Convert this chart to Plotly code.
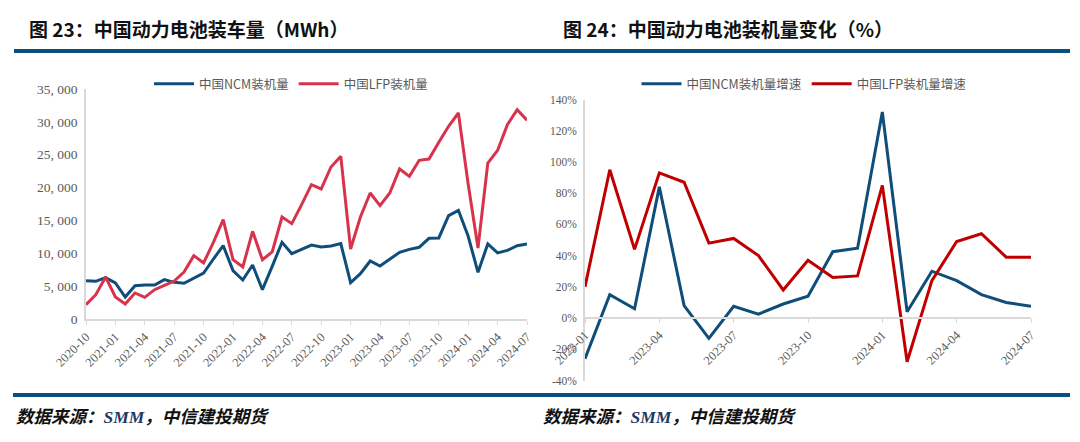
import pandas as pd
import plotly.graph_objects as go

# left chart: monthly installations, MWh (2020-10 .. 2024-07)
months_left = [d.strftime("%Y-%m") for d in pd.date_range("2020-10-01", "2024-07-01", freq="MS")]
ncm_mwh = [5830, 5730, 6300, 5480, 3350, 5070, 5170, 5170, 5990, 5580, 5430, 6240,
           7000, 9130, 11160, 7360, 5940, 8220, 4460, 8020, 11670, 9940, 10650, 11260,
           10960, 11110, 11470, 5530, 6900, 8830, 8070, 9130, 10150, 10600, 10910, 12280,
           12330, 15730, 16540, 12580, 7100, 11420, 10050, 10450, 11160, 11420]
lfp_mwh = [2180, 3700, 6390, 3350, 2280, 3960, 3300, 4460, 5120, 5780, 7150, 9640,
           8520, 11670, 15120, 9030, 7910, 13340, 9030, 10200, 15520, 14510, 17400, 20450,
           19790, 23130, 24760, 10650, 15520, 19180, 17250, 19180, 22830, 21710, 24150, 24350,
           26890, 29330, 31350, 20500, 10800, 23740, 25670, 29580, 31860, 30240]
left_ticks = months_left[::3]
left_yticks = [0, 5000, 10000, 15000, 20000, 25000, 30000, 35000]

# right chart: growth rates, % (2023-01 .. 2024-07)
months_right = [d.strftime("%Y-%m") for d in pd.date_range("2023-01-01", "2024-07-01", freq="MS")]
ncm_growth = [-26, 15, 6, 84, 8, -13, 7.5, 2.5, 9, 14, 42.5, 44.7, 132, 4, 30, 24, 15, 10, 7.5]
lfp_growth = [20, 95, 44, 93, 87, 48, 51, 40, 18, 37, 26, 27, 85, -28, 24, 49, 54, 39, 39]
right_ticks = months_right[::3]
right_yticks = list(range(-40, 141, 20))

W, H = 1080, 442
OFF = 8  # page body margin, positions below are in screen pixels
BLUE = "#0f4d7a"
RED_L = "#d8334c"
RED_R = "#c00000"
GREY = "#595959"
AXIS = "#d9d9d9"
RULE = "#0b4f80"


def px(x):
    return (x - OFF) / W


def py(y):
    return 1 - (y - OFF) / H


fig = go.Figure()
fig.add_trace(go.Scatter(x=months_left, y=ncm_mwh, mode="lines", name="中国NCM装机量",
                         line=dict(color=BLUE, width=3), xaxis="x", yaxis="y", legend="legend"))
fig.add_trace(go.Scatter(x=months_left, y=lfp_mwh, mode="lines", name="中国LFP装机量",
                         line=dict(color=RED_L, width=3), xaxis="x", yaxis="y", legend="legend"))
fig.add_trace(go.Scatter(x=months_right, y=ncm_growth, mode="lines", name="中国NCM装机量增速",
                         line=dict(color=BLUE, width=3), xaxis="x2", yaxis="y2", legend="legend2"))
fig.add_trace(go.Scatter(x=months_right, y=lfp_growth, mode="lines", name="中国LFP装机量增速",
                         line=dict(color=RED_R, width=3), xaxis="x2", yaxis="y2", legend="legend2"))

xtick_font = dict(family="Liberation Serif", size=12.5, color=GREY)
y2_bottom, y2_top = 380.5, 99.5
zero_pos = py(y2_bottom) + (py(y2_top) - py(y2_bottom)) * 40 / 180

fig.update_layout(
    width=W, height=H,
    margin=dict(l=0, r=0, t=0, b=0, autoexpand=False),
    plot_bgcolor="white", paper_bgcolor="white",
    font=dict(family="Noto Sans CJK SC", color=GREY),
    xaxis=dict(domain=[px(86), px(527)], type="category", range=[0, len(months_left) - 1],
               tickvals=left_ticks, tickangle=-45, tickfont=xtick_font,
               showline=True, linecolor=AXIS, linewidth=1.5, ticks="outside", ticklen=4,
               tickcolor=AXIS, showgrid=False, anchor="y", automargin=False),
    yaxis=dict(domain=[py(319), py(89)], range=[0, 35000], tickvals=left_yticks,
               ticktext=[f"{v:,}".replace(",", ", ") for v in left_yticks],
               tickfont=dict(family="Liberation Serif", size=13.5, color=GREY),
               showline=True, linecolor=AXIS, linewidth=1.5,
               showgrid=False, zeroline=False, anchor="x", ticks="outside", ticklen=4,
               tickcolor="white", automargin=False),
    xaxis2=dict(domain=[px(585), px(1031)], type="category", range=[0, len(months_right) - 1],
                tickvals=right_ticks, tickangle=-45, tickfont=xtick_font,
                showline=True, linecolor=AXIS, linewidth=1.5, ticks="outside", ticklen=4,
                tickcolor=AXIS, showgrid=False, anchor="free", position=zero_pos, automargin=False),
    yaxis2=dict(domain=[py(y2_bottom), py(y2_top)], range=[-40, 140], tickvals=right_yticks,
                ticktext=[f"{v}%" for v in right_yticks],
                tickfont=dict(family="Liberation Serif", size=11.5, color=GREY),
                showline=True, linecolor=AXIS, linewidth=1.5,
                showgrid=False, zeroline=False, anchor="x2", ticks="outside", ticklen=4,
                tickcolor="white", automargin=False),
    legend=dict(orientation="h", x=px(291), y=py(84), xanchor="center", yanchor="middle",
                font=dict(size=12.5, color=GREY), bgcolor="rgba(0,0,0,0)", itemwidth=40),
    legend2=dict(orientation="h", x=px(804), y=py(84), xanchor="center", yanchor="middle",
                 font=dict(size=12.5, color=GREY), bgcolor="rgba(0,0,0,0)", itemwidth=40),
    showlegend=True,
)

# titles
for x0, text in [(27, "图 23：中国动力电池装车量（MWh）"), (561, "图 24：中国动力电池装机量变化（%）")]:
    fig.add_annotation(x=px(x0), y=py(28.5), xref="paper", yref="paper", xanchor="left", yanchor="middle",
                       text="<b>" + text + "</b>", showarrow=False,
                       font=dict(family="Noto Sans CJK SC", size=19, color="#111111"))

# sources
for x0 in [14, 541]:
    fig.add_annotation(x=px(x0), y=py(415), xref="paper", yref="paper", xanchor="left", yanchor="middle",
                       text="<b><i>数据来源：<span style='color:#1f3864;font-family:Liberation Serif'>SMM</span>，中信建投期货</i></b>",
                       showarrow=False, font=dict(family="Noto Sans CJK SC", size=17.5, color="#111111"))

# blue rules
fig.add_shape(type="line", xref="paper", yref="paper", x0=px(14), x1=px(1070), y0=py(51), y1=py(51),
              line=dict(color=RULE, width=4))
fig.add_shape(type="line", xref="paper", yref="paper", x0=px(13), x1=px(1070), y0=py(395), y1=py(395),
              line=dict(color=RULE, width=4))

fig.write_html("out.html")
